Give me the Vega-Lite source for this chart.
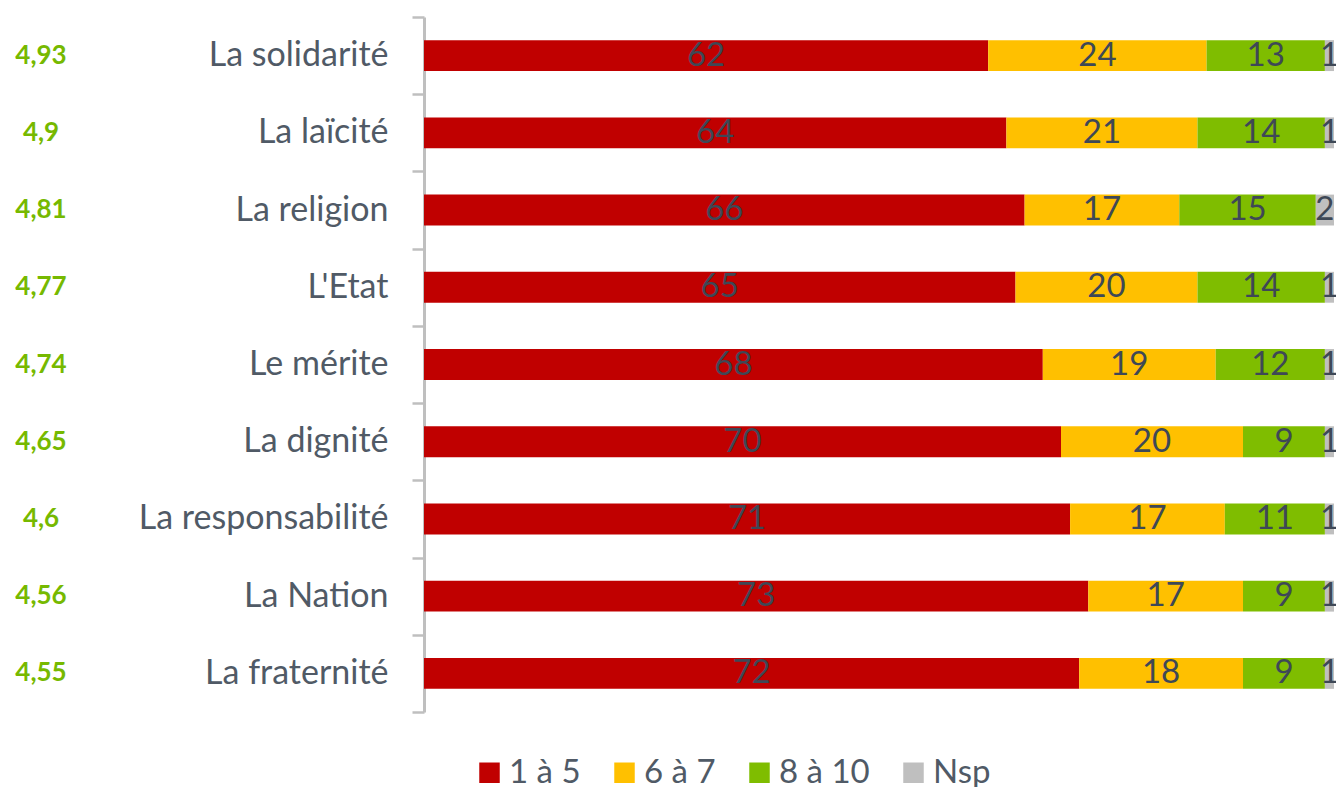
{
  "$schema": "https://vega.github.io/schema/vega-lite/v6.json",
  "padding": {"left": 0, "top": 0, "right": 0, "bottom": 0},
  "config": {"view": {"stroke": null}, "font": "Lato", "concat": {"spacing": 42}},
  "datasets": {
    "scores": [
      {"cat": "La solidarité", "score": "4,93"},
      {"cat": "La laïcité", "score": "4,9"},
      {"cat": "La religion", "score": "4,81"},
      {"cat": "L'Etat", "score": "4,77"},
      {"cat": "Le mérite", "score": "4,74"},
      {"cat": "La dignité", "score": "4,65"},
      {"cat": "La responsabilité", "score": "4,6"},
      {"cat": "La Nation", "score": "4,56"},
      {"cat": "La fraternité", "score": "4,55"}
    ],
    "bars": [
      {"cat": "La solidarité", "grp": "1 à 5", "ord": 1, "v": 62},
      {"cat": "La solidarité", "grp": "6 à 7", "ord": 2, "v": 24},
      {"cat": "La solidarité", "grp": "8 à 10", "ord": 3, "v": 13},
      {"cat": "La solidarité", "grp": "Nsp", "ord": 4, "v": 1},
      {"cat": "La laïcité", "grp": "1 à 5", "ord": 1, "v": 64},
      {"cat": "La laïcité", "grp": "6 à 7", "ord": 2, "v": 21},
      {"cat": "La laïcité", "grp": "8 à 10", "ord": 3, "v": 14},
      {"cat": "La laïcité", "grp": "Nsp", "ord": 4, "v": 1},
      {"cat": "La religion", "grp": "1 à 5", "ord": 1, "v": 66},
      {"cat": "La religion", "grp": "6 à 7", "ord": 2, "v": 17},
      {"cat": "La religion", "grp": "8 à 10", "ord": 3, "v": 15},
      {"cat": "La religion", "grp": "Nsp", "ord": 4, "v": 2},
      {"cat": "L'Etat", "grp": "1 à 5", "ord": 1, "v": 65},
      {"cat": "L'Etat", "grp": "6 à 7", "ord": 2, "v": 20},
      {"cat": "L'Etat", "grp": "8 à 10", "ord": 3, "v": 14},
      {"cat": "L'Etat", "grp": "Nsp", "ord": 4, "v": 1},
      {"cat": "Le mérite", "grp": "1 à 5", "ord": 1, "v": 68},
      {"cat": "Le mérite", "grp": "6 à 7", "ord": 2, "v": 19},
      {"cat": "Le mérite", "grp": "8 à 10", "ord": 3, "v": 12},
      {"cat": "Le mérite", "grp": "Nsp", "ord": 4, "v": 1},
      {"cat": "La dignité", "grp": "1 à 5", "ord": 1, "v": 70},
      {"cat": "La dignité", "grp": "6 à 7", "ord": 2, "v": 20},
      {"cat": "La dignité", "grp": "8 à 10", "ord": 3, "v": 9},
      {"cat": "La dignité", "grp": "Nsp", "ord": 4, "v": 1},
      {"cat": "La responsabilité", "grp": "1 à 5", "ord": 1, "v": 71},
      {"cat": "La responsabilité", "grp": "6 à 7", "ord": 2, "v": 17},
      {"cat": "La responsabilité", "grp": "8 à 10", "ord": 3, "v": 11},
      {"cat": "La responsabilité", "grp": "Nsp", "ord": 4, "v": 1},
      {"cat": "La Nation", "grp": "1 à 5", "ord": 1, "v": 73},
      {"cat": "La Nation", "grp": "6 à 7", "ord": 2, "v": 17},
      {"cat": "La Nation", "grp": "8 à 10", "ord": 3, "v": 9},
      {"cat": "La Nation", "grp": "Nsp", "ord": 4, "v": 1},
      {"cat": "La fraternité", "grp": "1 à 5", "ord": 1, "v": 72},
      {"cat": "La fraternité", "grp": "6 à 7", "ord": 2, "v": 18},
      {"cat": "La fraternité", "grp": "8 à 10", "ord": 3, "v": 9},
      {"cat": "La fraternité", "grp": "Nsp", "ord": 4, "v": 1}
    ]
  },
  "hconcat": [
    {
      "width": 82,
      "height": 695,
      "data": {"name": "scores"},
      "mark": {"type": "text", "fontSize": 26, "fontWeight": "bold", "color": "#76B900", "align": "center", "baseline": "middle"},
      "encoding": {
        "y": {"field": "cat", "type": "nominal", "sort": null, "axis": null, "scale": {"paddingInner": 0, "paddingOuter": 0}},
        "text": {"field": "score", "type": "nominal"}
      }
    },
    {
      "width": 910,
      "height": 695,
      "data": {"name": "bars"},
      "encoding": {
        "y": {
          "field": "cat", "type": "nominal", "sort": null, "title": null,
          "scale": {"paddingInner": 0, "paddingOuter": 0},
          "axis": {
            "tickBand": "extent", "tickSize": 12, "tickWidth": 2.5, "tickColor": "#BFBFBF",
            "domainColor": "#BFBFBF", "domainWidth": 3,
            "labelFontSize": 34, "labelColor": "#505A66", "labelPadding": 24,
            "labelLimit": 400, "minExtent": 300, "maxExtent": 300
          }
        }
      },
      "layer": [
        {
          "mark": {"type": "bar", "height": {"band": 0.4}},
          "encoding": {
            "x": {"field": "v", "type": "quantitative", "stack": "zero", "scale": {"domain": [0, 100]}, "axis": null},
            "order": {"field": "ord", "type": "quantitative"},
            "color": {
              "field": "grp", "type": "nominal",
              "scale": {"domain": ["1 à 5", "6 à 7", "8 à 10", "Nsp"], "range": ["#C00000", "#FFC000", "#7FBD00", "#BFBFBF"]},
              "legend": {
                "orient": "none", "legendX": 473, "legendY": 739, "direction": "horizontal", "title": null,
                "symbolType": "square", "symbolSize": 420, "symbolStrokeWidth": 0,
                "labelFontSize": 33, "labelColor": "#505A66", "columnPadding": 27, "labelOffset": 3
              }
            }
          }
        },
        {
          "mark": {"type": "text", "fontSize": 33, "color": "#3E4856", "align": "center", "baseline": "middle"},
          "encoding": {
            "x": {"field": "v", "type": "quantitative", "stack": "zero", "bandPosition": 0.5, "scale": {"domain": [0, 100]}, "axis": null},
            "order": {"field": "ord", "type": "quantitative"},
            "text": {"field": "v", "type": "quantitative"}
          }
        }
      ]
    }
  ]
}
